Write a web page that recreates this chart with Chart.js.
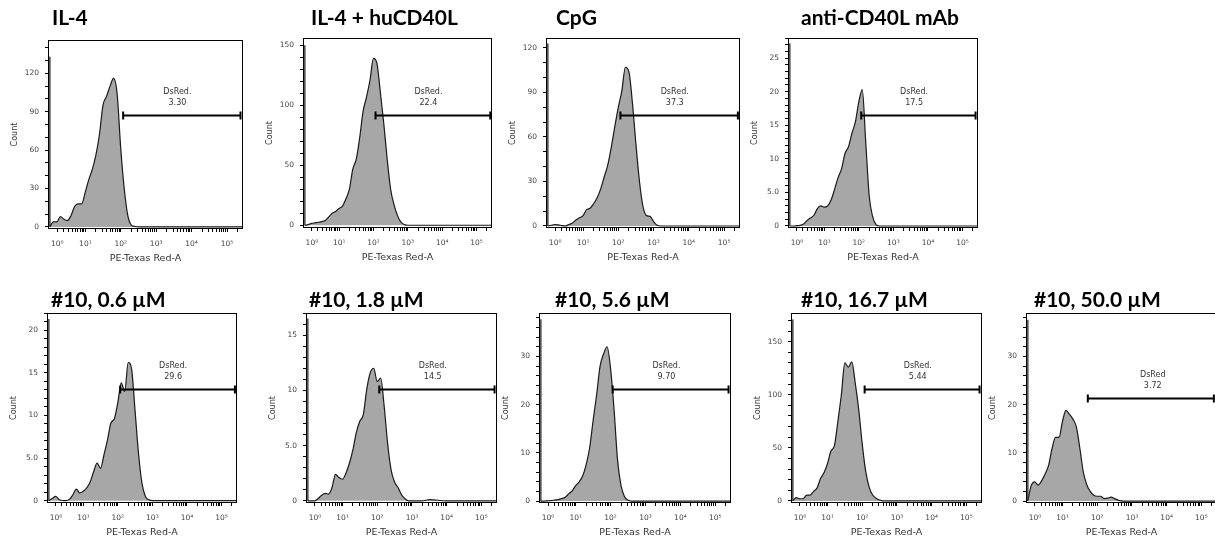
<!DOCTYPE html>
<html>
<head>
<meta charset="utf-8">
<script src="https://cdn.jsdelivr.net/npm/chart.js@4.4.1/dist/chart.umd.min.js"></script>
<style>
  html, body { margin: 0; padding: 0; background: #fff; overflow: hidden; }
  body { width: 1215px; height: 544px; position: relative; }
  canvas { position: absolute; }
</style>
</head>
<body>
<script>
// histogram bins, in display units of the biexponential axis (10^k sits at ~k)
const binPos = [0.0, 0.1, 0.2, 0.3, 0.4, 0.5, 0.6, 0.7, 0.8, 0.9,
                1.0, 1.1, 1.2, 1.3, 1.4, 1.5, 1.6, 1.7, 1.8, 1.9,
                2.0, 2.1, 2.2, 2.3, 2.4, 2.5, 2.6, 2.7, 2.8, 2.9,
                3.0, 3.1, 3.2, 3.3, 3.4, 3.5, 4.0, 4.5, 5.0, 5.45];

const panelTitles = ['IL-4', 'IL-4 + huCD40L', 'CpG', 'anti-CD40L mAb',
                     '#10, 0.6 µM', '#10, 1.8 µM', '#10, 5.6 µM', '#10, 16.7 µM', '#10, 50.0 µM'];

const il4Counts      = [0, 4, 4, 8, 6, 5, 9, 16, 18, 18, 27, 37, 45, 56, 72, 95, 102, 110, 116, 104,
                        62, 30, 9, 1.5, 0.4, 0, 0, 0, 0, 0, 0, 0, 0, 0, 0, 0, 0, 0, 0, 0];
const cd40lCounts    = [0, 0.5, 1.5, 2, 2.5, 3, 4, 7, 10, 11.5, 14, 16, 22, 30, 47, 55, 73, 95, 107, 121,
                        139, 135, 111, 85, 55, 30, 17, 8, 2.5, 0.5, 0, 0, 0, 0, 0, 0, 0, 0, 0, 0];
const cpgCounts      = [0, 0.5, 1, 0.7, 0.3, 0, 1, 2, 4, 5.5, 7, 11, 12, 15, 19, 25, 33, 41, 53, 67,
                        80, 91, 107, 104, 83, 55, 30, 13, 7, 6.5, 3, 0.5, 0, 0, 0, 0, 0, 0, 0, 0];
const antiCd40lCounts = [0, 0, 0.05, 0.1, 0.3, 0.8, 1.2, 1.6, 2.6, 3.0, 2.8, 3.0, 3.9, 5.5, 7.2, 8.5, 10.8, 11.8, 13.8, 15.5,
                        18.5, 20.3, 12.5, 4.5, 1.4, 0.2, 0, 0, 0, 0, 0, 0, 0, 0, 0, 0, 0, 0, 0, 0];
const dose06Counts   = [0, 0.25, 0.5, 0.15, 0.02, 0, 0.15, 0.7, 1.35, 0.9, 1.1, 1.5, 2.2, 3.4, 4.4, 3.8, 5.4, 7.1, 9.1, 9.6,
                        11.5, 13.8, 12.8, 16.2, 15.4, 10.5, 5.5, 2.0, 0.5, 0.1, 0, 0, 0, 0, 0, 0, 0, 0, 0, 0];
const dose18Counts   = [0, 0, 0, 0.2, 0.5, 0.67, 0.6, 1.2, 2.4, 2.1, 1.95, 2.5, 3.4, 4.6, 6.2, 7.2, 7.8, 10.1, 11.6, 12.0,
                        10.8, 11.1, 8.6, 5.2, 2.8, 1.7, 1.2, 0.55, 0.2, 0, 0, 0, 0, 0, 0.05, 0.1, 0, 0, 0, 0];
const dose56Counts   = [0, 0, 0.05, 0.1, 0.2, 0.3, 0.5, 0.8, 1.5, 2.1, 3.2, 4.0, 5.2, 7.5, 11.0, 16.7, 22, 28, 30.5, 32,
                        27.5, 19, 8.5, 3.2, 0.9, 0.2, 0, 0, 0, 0, 0, 0, 0, 0, 0, 0, 0, 0, 0, 0];
const dose167Counts  = [0, 3, 2, 2, 5.5, 5.5, 9, 12, 21, 26.5, 35, 47, 52, 75, 100, 130, 126, 131, 111, 86,
                        54, 28, 13, 5.5, 2.5, 0.8, 0, 0, 0, 0, 0, 0, 0, 0, 0, 0, 0, 0, 0, 0];
const dose500Counts  = [0, 3.2, 4, 3.3, 4.2, 5.6, 7.4, 10.9, 13.2, 13.2, 16.5, 18.8, 18.0, 17.0, 15.4, 11, 6.0, 3.4, 2.0, 1.2,
                        1.0, 1.0, 0.5, 0.6, 0.8, 0.5, 0.2, 0.05, 0, 0, 0, 0, 0, 0, 0, 0, 0, 0, 0, 0];

const panelCounts = [il4Counts, cd40lCounts, cpgCounts, antiCd40lCounts,
                     dose06Counts, dose18Counts, dose56Counts, dose167Counts, dose500Counts];

// events piled up at the low end of the axis
const spikeCounts = [133, 150, 123, 27.2, 21.3, 16.5, 37.7, 171, 37.6];

// y axis ranges and tick steps
const yMax   = [146, 156, 126.7, 28, 22, 17, 39, 177, 39];
const yMin   = [-1.6, -2.3, -1.35, -0.3, -0.27, -0.2, -0.4, -2, -0.4];
const yMajor = [30, 50, 30, 5, 5, 5, 10, 50, 10];
const yMinor = [10, 10, 10, 1, 1, 1, 2, 10, 2];

// DsRed gates
const gateNames  = ['DsRed.', 'DsRed.', 'DsRed.', 'DsRed.', 'DsRed.', 'DsRed.', 'DsRed.', 'DsRed.', 'DsRed'];
const gateValues = ['3.30', '22.4', '37.3', '17.5', '29.6', '14.5', '9.70', '5.44', '3.72'];
const gateFrom   = [2.07, 2.06, 2.06, 2.07, 2.07, 2.06, 2.06, 2.07, 1.73];
const gateTo     = [5.38, 5.40, 5.39, 5.38, 5.39, 5.38, 5.38, 5.38, 5.36];
const gateY      = [87.4, 92.1, 75, 16.55, 13.1, 10.14, 23.2, 105, 21.3];

const xTickLabels = ['10⁰', '10¹', '10²', '10³', '10⁴', '10⁵'];

// page layout of each plot box
const boxes = [
  { left: 48,   top: 40,  w: 195, h: 189, tdx: 4,  tdy: 15 },
  { left: 303,  top: 38,  w: 189, h: 190, tdx: 8,  tdy: 13 },
  { left: 546,  top: 38,  w: 194, h: 190, tdx: 10, tdy: 13 },
  { left: 788,  top: 38,  w: 190, h: 190, tdx: 13, tdy: 13 },
  { left: 47,   top: 313, w: 190, h: 190, tdx: 4,  tdy: 6 },
  { left: 306,  top: 313, w: 191, h: 190, tdx: 3,  tdy: 6 },
  { left: 539,  top: 313, w: 192, h: 190, tdx: 16, tdy: 6 },
  { left: 791,  top: 313, w: 191, h: 190, tdx: 10, tdy: 6 },
  { left: 1026, top: 313, w: 191, h: 190, tdx: 8,  tdy: 6 }
];

const Y_W = 42, X_H = 39, PAD_T = 34, PAD_R = 8;
const X_MIN = -0.05, X_MAX = 5.45;
const tickFont = { family: 'DejaVu Sans', size: 7.5 };

function biex(v) { return Math.asinh(v / 2) / Math.LN10; }

function buildXTicks() {
  const t = [];
  for (let k = 0; k <= 5; k++) {
    for (let m = 1; m <= 9; m++) {
      const u = biex(m * Math.pow(10, k));
      if (u > X_MAX) break;
      t.push({ value: u, lbl: m === 1 ? xTickLabels[k] : '' });
    }
  }
  return t;
}

function fmtCount(v) {
  if (v === 0) return '0';
  return v < 10 ? v.toFixed(1) : String(v);
}

const panelDecor = {
  id: 'panelDecor',
  afterDatasetsDraw(chart, args, o) {
    const { ctx, chartArea: a, scales: { x, y } } = chart;
    ctx.save();
    ctx.strokeStyle = '#000';
    ctx.lineWidth = 1;
    ctx.strokeRect(Math.round(a.left) + 0.5, Math.round(a.top) + 0.5,
                   Math.round(a.width) - 1, Math.round(a.height) - 1);

    // gate bar with end caps
    const gy = Math.round(y.getPixelForValue(o.gateY)) + 0.5;
    const x1 = x.getPixelForValue(o.from), x2 = x.getPixelForValue(o.to);
    ctx.lineWidth = 2;
    ctx.beginPath();
    ctx.moveTo(x1, gy); ctx.lineTo(x2, gy);
    ctx.moveTo(x1, gy - 4); ctx.lineTo(x1, gy + 4);
    ctx.moveTo(x2, gy - 4); ctx.lineTo(x2, gy + 4);
    ctx.stroke();

    ctx.font = '8px "DejaVu Sans"';
    ctx.fillStyle = '#333';
    ctx.textAlign = 'center';
    ctx.textBaseline = 'middle';
    const lx = x.getPixelForValue(3.6);
    ctx.fillText(o.name, lx, gy - 24);
    ctx.fillText(o.value, lx, gy - 13);

    ctx.font = 'bold 21px Lato';
    ctx.fillStyle = '#000';
    ctx.textAlign = 'left';
    ctx.textBaseline = 'alphabetic';
    ctx.fillText(o.title, a.left + o.tdx, a.top - o.tdy);
    ctx.restore();
  }
};

boxes.forEach((b, i) => {
  const c = document.createElement('canvas');
  c.width = Y_W + b.w + PAD_R;
  c.height = PAD_T + b.h + X_H;
  c.style.left = (b.left - Y_W) + 'px';
  c.style.top = (b.top - PAD_T) + 'px';
  document.body.appendChild(c);

  const counts = panelCounts[i];
  new Chart(c, {
    type: 'line',
    data: {
      datasets: [
        {
          data: binPos.map((u, j) => ({ x: u, y: counts[j] })),
          borderColor: '#1a1a1a',
          borderWidth: 1.2,
          backgroundColor: '#a7a7a7',
          fill: 'origin',
          pointRadius: 0,
          cubicInterpolationMode: 'monotone'
        },
        {
          data: [{ x: -0.01, y: 0 }, { x: -0.01, y: spikeCounts[i] }],
          borderColor: '#555',
          borderWidth: 2.5,
          fill: false,
          pointRadius: 0
        }
      ]
    },
    options: {
      responsive: false,
      animation: false,
      layout: { padding: { top: PAD_T, right: PAD_R, left: 0, bottom: 0 } },
      plugins: {
        legend: { display: false },
        tooltip: { enabled: false },
        panelDecor: {
          title: panelTitles[i], tdx: b.tdx, tdy: b.tdy,
          from: gateFrom[i], to: gateTo[i], gateY: gateY[i],
          name: gateNames[i], value: gateValues[i]
        }
      },
      scales: {
        x: {
          type: 'linear', min: X_MIN, max: X_MAX,
          afterBuildTicks: s => { s.ticks = buildXTicks(); },
          afterFit: s => { s.height = X_H; },
          border: { display: false },
          grid: { drawOnChartArea: false, drawTicks: true, tickLength: 3, color: '#000' },
          ticks: {
            autoSkip: false, maxRotation: 0, padding: 8, font: tickFont, color: '#444',
            callback: (v, idx, t) => t[idx].lbl || ''
          },
          title: {
            display: true, text: 'PE-Texas Red-A', color: '#333',
            font: { family: 'DejaVu Sans', size: 9.5 }, padding: { top: 0, bottom: 4 }
          }
        },
        y: {
          type: 'linear', min: yMin[i], max: yMax[i],
          afterBuildTicks: s => {
            const t = [];
            for (let v = 0; v <= yMax[i] + 1e-9; v += yMinor[i]) t.push({ value: +v.toFixed(3) });
            s.ticks = t;
          },
          afterFit: s => { s.width = Y_W; },
          border: { display: false },
          grid: { drawOnChartArea: false, drawTicks: true, tickLength: 3, color: '#000' },
          ticks: {
            autoSkip: false, padding: 6, font: tickFont, color: '#444',
            callback: v => {
              const r = v / yMajor[i];
              return Math.abs(r - Math.round(r)) < 1e-6 ? fmtCount(v) : '';
            }
          },
          title: {
            display: true, text: 'Count', color: '#333',
            font: { family: 'DejaVu Sans', size: 8 }, padding: { top: 4, bottom: 0 }
          }
        }
      }
    },
    plugins: [panelDecor]
  });
});
</script>
</body>
</html>
